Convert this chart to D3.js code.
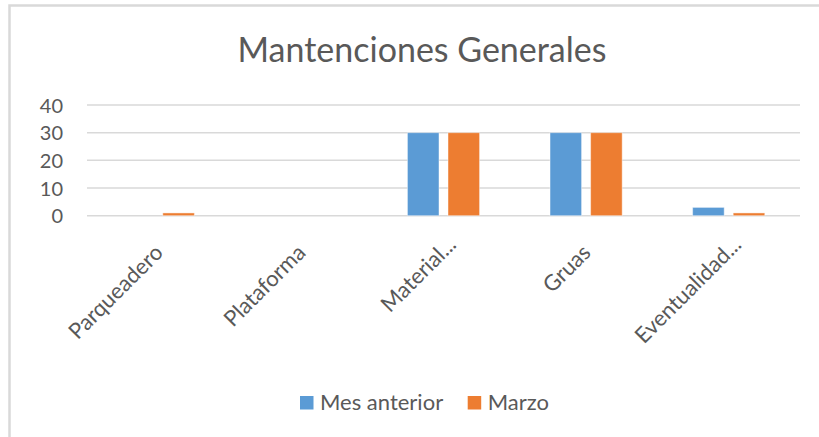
<!DOCTYPE html>
<html>
<head>
<meta charset="utf-8">
<script src="https://cdn.jsdelivr.net/npm/d3@7"></script>
<style>
body{margin:0;background:#fff;}
text{font-family:Lato,"Open Sans",sans-serif;fill:#595959;}
</style>
</head>
<body>
<script>
var categorias=["Parqueadero","Plataforma","Material...","Gruas","Eventualidad..."];
var series=["Mes anterior","Marzo"];
var mesAnterior=[0,0,30,30,3];
var marzo=[1,0,30,30,1];
var ticks=[0,10,20,30,40];
var colores=["#5B9BD5","#ED7D31"];

var W=819,H=437;
var svg=d3.select("body").append("svg")
.attr("width",W)
.attr("height",H);

svg.append("rect")
.attr("width",W).attr("height",H).attr("fill","#fff");

// marco del grafico (se corta por la derecha y abajo)
svg.append("rect")
.attr("x",9.5).attr("y",5.5)
.attr("width",900).attr("height",500)
.attr("fill","none")
.attr("stroke","#d9d9d9")
.attr("stroke-width",2.5);

svg.append("text")
.attr("x",422).attr("y",62)
.attr("text-anchor","middle")
.style("font-size","34px")
.text("Mantenciones Generales");

var x0=d3.scaleBand().domain(categorias).range([87,800]).padding(0);
var bw=x0.bandwidth();
var x1=d3.scaleBand().domain(series).range([bw*0.247,bw*0.753]).paddingInner(0.222);
var y=d3.scaleLinear().domain([0,40]).range([215.7,105]);

// lineas de la grilla
svg.append("g").selectAll("line").data(ticks).enter().append("line")
.attr("x1",87).attr("x2",800)
.attr("y1",function(d){return y(d);})
.attr("y2",function(d){return y(d);})
.attr("stroke","#d9d9d9")
.attr("stroke-width",1.5);

var yAxis=d3.axisLeft(y).tickValues(ticks).tickSize(0).tickPadding(0);
var gy=svg.append("g").attr("transform","translate(63,0)").call(yAxis);
gy.select(".domain").remove();
gy.selectAll("text").style("font-size","20px").attr("dy","0.36em").attr("fill","#595959");

var filas=categorias.map(function(c,i){return {cat:c,vals:[mesAnterior[i],marzo[i]]};});

var grupos=svg.append("g").selectAll("g").data(filas).enter().append("g")
.attr("transform",function(d){return "translate("+x0(d.cat)+",0)";});

grupos.selectAll("rect").data(function(d){
	return d.vals.map(function(v,j){return {s:series[j],v:v,j:j};});
}).enter().append("rect")
.attr("x",function(d){return x1(d.s);})
.attr("width",x1.bandwidth())
.attr("y",function(d){return y(d.v);})
.attr("height",function(d){return y(0)-y(d.v);})
.attr("fill",function(d){return colores[d.j];})
.attr("stroke",function(d){return d.v>0?"rgba(255,255,255,0.45)":"none";})
.attr("stroke-width",1);

// etiquetas del eje x rotadas
svg.append("g").selectAll("text").data(categorias).enter().append("text")
.attr("text-anchor","end")
.style("font-size","22px")
.attr("transform",function(d){
	var cx=x0(d)+bw/2+6, cy=254;
	if(d.slice(-3)==="..."){cx+=8;cy-=8;}
	return "translate("+cx+","+cy+") rotate(-45)";
})
.text(function(d){return d;});

// leyenda
var ley=svg.append("g").selectAll("g").data(series).enter().append("g")
.attr("transform",function(d,i){return "translate("+(i===0?300:467.7)+",396)";});
ley.append("rect")
.attr("width",13.5).attr("height",13.5)
.attr("fill",function(d,i){return colores[i];});
ley.append("text")
.attr("x",20).attr("y",13.5)
.style("font-size","22px")
.text(function(d){return d;});
</script>
</body>
</html>
